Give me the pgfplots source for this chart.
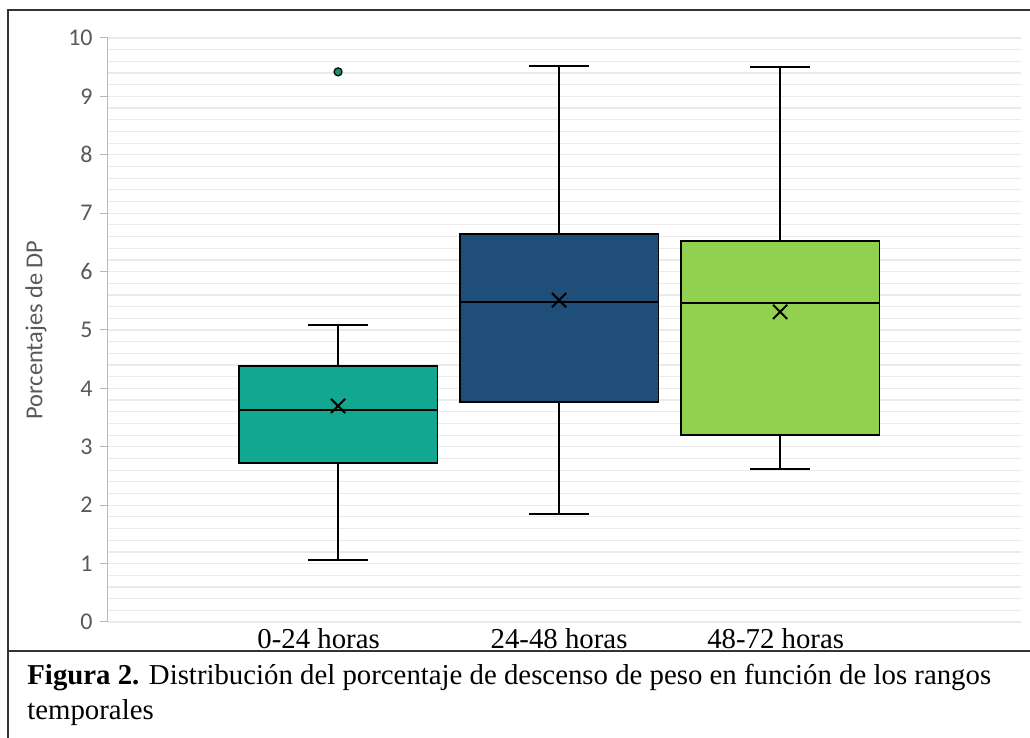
\documentclass[border=0pt]{standalone}
\usepackage{pgfplots}
\pgfplotsset{compat=1.18}
\usepgfplotslibrary{statistics}
\usepackage{fontspec}
\setmainfont{Carlito}
\newfontfamily\tnr{Liberation Serif}
\definecolor{tealbox}{HTML}{11A791}
\definecolor{bluebox}{HTML}{1F4E79}
\definecolor{greenbox}{HTML}{92D050}
\definecolor{outfill}{HTML}{1E8C6E}
\definecolor{ticktext}{HTML}{595959}
\definecolor{gridc}{HTML}{EAEAEA}
\begin{document}
\begin{tikzpicture}
\path[use as bounding box] (0,0) rectangle (515pt,369pt);
\begin{axis}[
  at={(54pt,58pt)}, anchor=south west,
  scale only axis, width=456.5pt, height=292pt,
  xmin=-0.041, xmax=4.09, ymin=0, ymax=10,
  boxplot/draw direction=y,
  axis lines*=left,
  x axis line style={draw=none},
  y axis line style={draw=gray!55, line width=0.5pt},
  xtick={0.912,2,2.98},
  xticklabels={0-24 horas,24-48 horas,48-72 horas},
  xticklabel style={font=\tnr\fontsize{14.4pt}{16pt}\selectfont, text=black, anchor=base, inner sep=0pt, yshift=-9.5pt},
  xtick style={draw=none},
  ytick={0,1,...,10},
  minor y tick num=4,
  ymajorgrids, yminorgrids,
  major grid style={draw=gridc, line width=0.6pt},
  minor grid style={draw=gridc, line width=0.6pt},
  ytick style={draw=gray!55, line width=0.5pt},
  tick align=outside, major tick length=4pt, minor tick length=0pt,
  yticklabel style={font=\fontsize{12pt}{14pt}\selectfont, text=ticktext, anchor=east, inner sep=0pt, xshift=-3.5pt},
  /pgf/number format/assume math mode=true,
  ylabel={Porcentajes de DP},
  every axis y label/.style={at={(axis description cs:-0.0789,0.5)}, rotate=90, anchor=center, font=\fontsize{12.2pt}{14pt}\selectfont, text=ticktext},
  clip=false,
]
\addplot[boxplot prepared={draw position=1, lower whisker=1.06, lower quartile=2.72, median=3.63, upper quartile=4.38, upper whisker=5.09, box extend=0.9, whisker extend=0.27}, draw=black, line width=0.9pt, fill=tealbox, mark=*, mark size=2pt, mark options={fill=outfill, draw=black, line width=0.6pt}] table[row sep=\\, y index=0]{9.42\\};
\addplot[boxplot prepared={draw position=2, lower whisker=1.85, lower quartile=3.77, median=5.48, upper quartile=6.64, upper whisker=9.52, box extend=0.9, whisker extend=0.27}, draw=black, line width=0.9pt, fill=bluebox] coordinates {};
\addplot[boxplot prepared={draw position=3, lower whisker=2.62, lower quartile=3.20, median=5.46, upper quartile=6.52, upper whisker=9.50, box extend=0.9, whisker extend=0.27}, draw=black, line width=0.9pt, fill=greenbox] coordinates {};
\addplot[only marks, mark=x, mark size=5pt, black, line width=1pt] coordinates {(1,3.70) (2,5.51) (3,5.31)};
\end{axis}
\draw[line width=1pt, black!80] (4pt,0) -- (4pt,364pt) -- (515pt,364pt);
\draw[line width=1pt, black!80] (4pt,43.5pt) -- (515pt,43.5pt);
\node[anchor=base west, inner sep=0pt, font=\tnr\fontsize{14.4pt}{17pt}\selectfont] at (13.5pt,26.5pt) {\textbf{Figura 2.} Distribución del porcentaje de descenso de peso en función de los rangos};
\node[anchor=base west, inner sep=0pt, font=\tnr\fontsize{14.4pt}{17pt}\selectfont] at (13.5pt,9pt) {temporales};
\end{tikzpicture}
\end{document}
